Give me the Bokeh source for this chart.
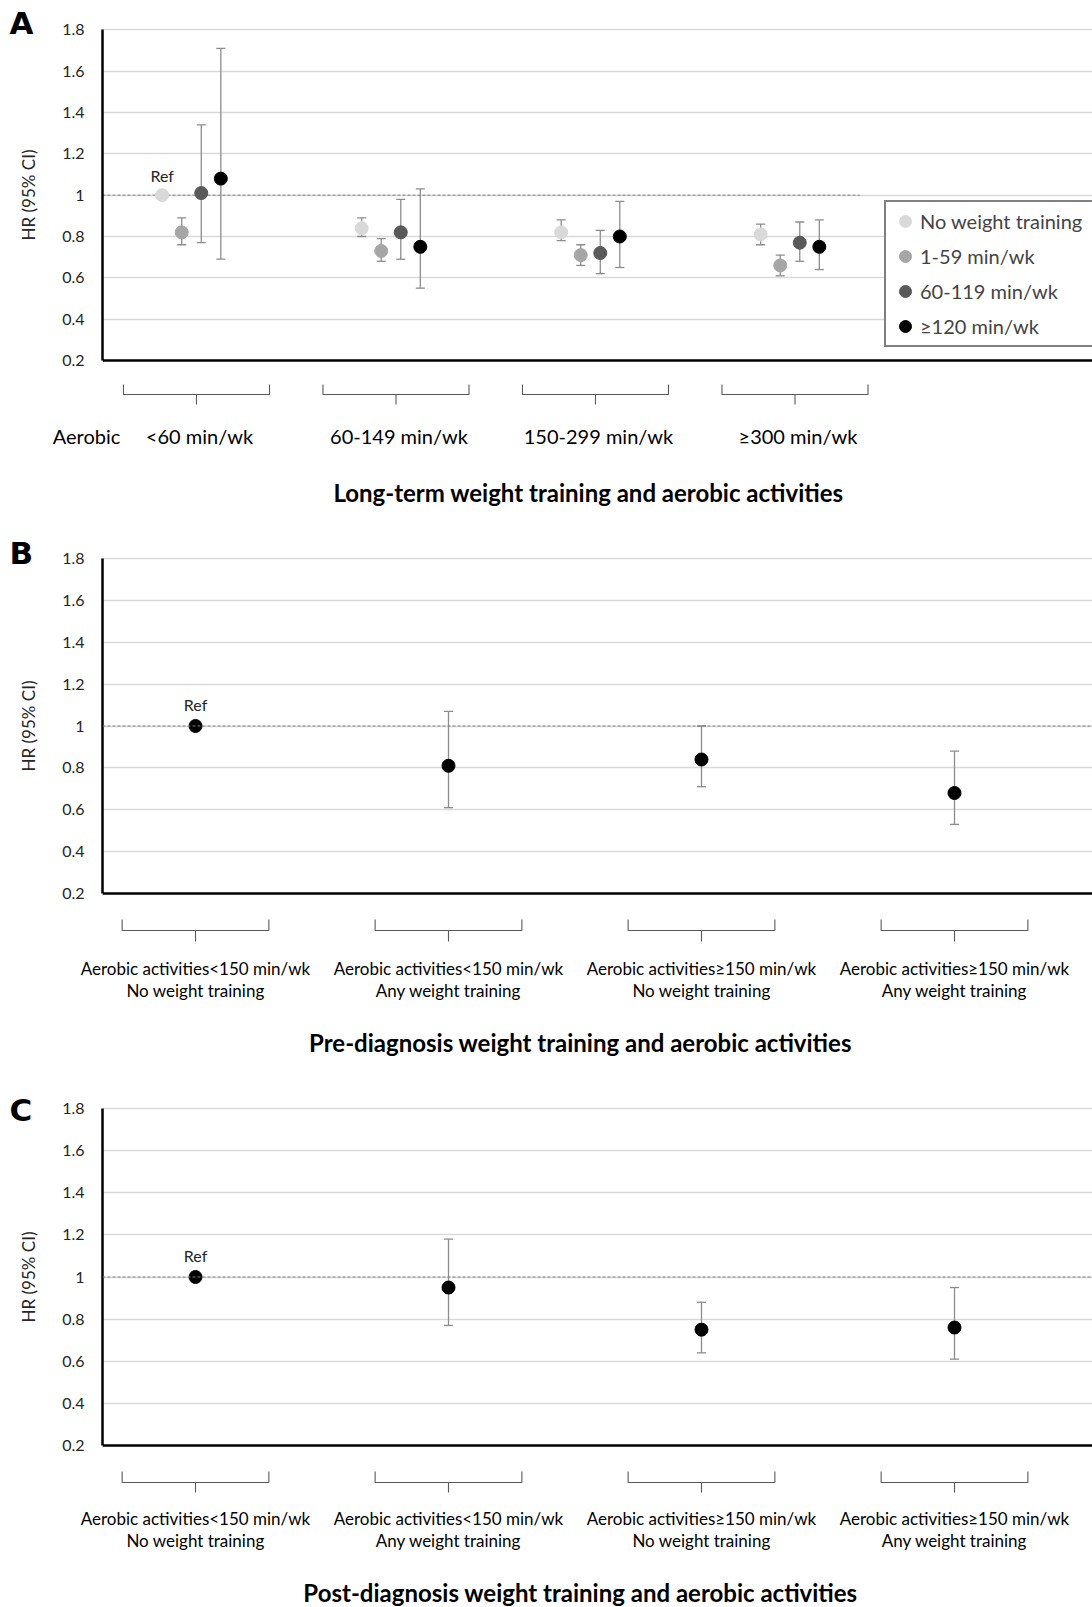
import numpy as np
from bokeh.plotting import figure
from bokeh.models import (Range1d, FixedTicker, Span, Whisker, TeeHead, ColumnDataSource,
                          Label, Legend, LegendItem)
from bokeh.layouts import column, row
from bokeh.embed import file_html
from bokeh.resources import INLINE
from bokeh.core.properties import value

# ---------------- data ----------------
y_ticks = [0.2, 0.4, 0.6, 0.8, 1.0, 1.2, 1.4, 1.6, 1.8]
y_tick_labels = ["0.2", "0.4", "0.6", "0.8", "1", "1.2", "1.4", "1.6", "1.8"]
y_label = "HR (95% CI)"
ref_text = "Ref"

# Panel A: long-term weight training within aerobic activity groups
a_aerobic_title = "Aerobic"
a_aerobic = ["<60 min/wk", "60-149 min/wk", "150-299 min/wk", "≥300 min/wk"]
a_weight = ["No weight training", "1-59 min/wk", "60-119 min/wk", "≥120 min/wk"]
a_hr_none = [1.00, 0.84, 0.82, 0.81]
a_lo_none = [np.nan, 0.80, 0.78, 0.76]
a_hi_none = [np.nan, 0.89, 0.88, 0.86]
a_hr_1_59 = [0.82, 0.73, 0.71, 0.66]
a_lo_1_59 = [0.76, 0.68, 0.66, 0.61]
a_hi_1_59 = [0.89, 0.79, 0.76, 0.71]
a_hr_60_119 = [1.01, 0.82, 0.72, 0.77]
a_lo_60_119 = [0.77, 0.69, 0.62, 0.68]
a_hi_60_119 = [1.34, 0.98, 0.83, 0.87]
a_hr_120 = [1.08, 0.75, 0.80, 0.75]
a_lo_120 = [0.69, 0.55, 0.65, 0.64]
a_hi_120 = [1.71, 1.03, 0.97, 0.88]
a_title = "Long-term weight training and aerobic activities"

# Panels B and C: categories
bc_line1 = ["Aerobic activities<150 min/wk", "Aerobic activities<150 min/wk",
            "Aerobic activities≥150 min/wk", "Aerobic activities≥150 min/wk"]
bc_line2 = ["No weight training", "Any weight training",
            "No weight training", "Any weight training"]

b_hr = [1.00, 0.81, 0.84, 0.68]
b_lo = [np.nan, 0.61, 0.71, 0.53]
b_hi = [np.nan, 1.07, 1.00, 0.88]
b_title = "Pre-diagnosis weight training and aerobic activities"

c_hr = [1.00, 0.95, 0.75, 0.76]
c_lo = [np.nan, 0.77, 0.64, 0.61]
c_hi = [np.nan, 1.18, 0.88, 0.95]
c_title = "Post-diagnosis weight training and aerobic activities"

# ---------------- layout / style ----------------
PAGE_W = 1092
SIDE_W = 45
MAIN_W = PAGE_W - SIDE_W
FRAME_LEFT = 102
MAIN_LEFT = FRAME_LEFT - SIDE_W
FRAME_W = PAGE_W - FRAME_LEFT
FONT = "Lato"
TXT = "#262626"
WHISK = "#8c8c8c"
GRID = "#d9d9d9"
A_COLORS = ["#d9d9d9", "#a6a6a6", "#595959", "#000000"]


def bare(p):
    p.outline_line_color = None
    p.xgrid.grid_line_color = None
    p.ygrid.grid_line_color = None


def make_main(first_px, step_px, height, top18, bot02):
    """top18 / bot02: pixel rows of the 1.8 and 0.2 grid lines inside the figure."""
    x0 = 1 - (first_px - FRAME_LEFT) / step_px
    x1 = x0 + FRAME_W / step_px
    k = (bot02 - top18) / (y_ticks[-1] - y_ticks[0])
    y0 = y_ticks[0] - (height - bot02) / k
    y1 = y_ticks[-1] + top18 / k
    p = figure(width=MAIN_W, height=height, output_backend="svg",
               toolbar_location=None, x_range=Range1d(x0, x1), y_range=Range1d(y0, y1),
               x_axis_location=None, min_border_left=MAIN_LEFT, min_border_right=0,
               min_border_top=0, min_border_bottom=0)
    p.outline_line_color = None
    p.xgrid.grid_line_color = None
    p.ygrid.ticker = FixedTicker(ticks=y_ticks)
    p.ygrid.grid_line_color = GRID
    p.ygrid.grid_line_width = 1.5
    ax = p.yaxis[0]
    ax.ticker = FixedTicker(ticks=y_ticks)
    ax.bounds = (y_ticks[0], y_ticks[-1])
    ax.major_label_overrides = {t: l for t, l in zip(y_ticks, y_tick_labels)}
    ax.axis_line_color = "black"
    ax.axis_line_width = 2.5
    ax.major_tick_out = 0
    ax.major_tick_in = 0
    ax.minor_tick_line_color = None
    ax.major_label_standoff = 18
    ax.major_label_text_font = FONT
    ax.major_label_text_font_size = "16px"
    ax.major_label_text_color = TXT
    p.add_layout(Span(location=y_ticks[0], dimension="width", line_color="black",
                      line_width=2.5))
    return p, x0


def make_side(height, letter, letter_mid, label_center):
    s = figure(width=SIDE_W, height=height, output_backend="svg", toolbar_location=None,
               x_range=Range1d(0, SIDE_W), y_range=Range1d(height, 0),
               x_axis_location=None, y_axis_location=None,
               min_border_left=0, min_border_right=0, min_border_top=0, min_border_bottom=0)
    bare(s)
    s.text(x=[9], y=[letter_mid], text=[letter], text_font=value("DejaVu Sans"),
           text_font_style="bold", text_font_size="31px", text_align="left",
           text_baseline="middle", text_color="black")
    s.text(x=[28], y=[label_center], text=[y_label], angle=np.pi / 2,
           text_font=value(FONT), text_font_size="17px", text_align="center",
           text_baseline="middle", text_color=TXT)
    return s


def make_below(first_px, step_px, height):
    x0 = 1 - first_px / step_px
    x1 = x0 + PAGE_W / step_px
    p = figure(width=PAGE_W, height=height, output_backend="svg", toolbar_location=None,
               x_range=Range1d(x0, x1), y_range=Range1d(height, 0),
               x_axis_location=None, y_axis_location=None,
               min_border_left=0, min_border_right=0, min_border_top=0, min_border_bottom=0)
    bare(p)
    return p, x0


def add_brackets(p, centers, half, y_top, y_mid, y_bot):
    xs, ys = [], []
    for c in centers:
        xs.append([c - half, c - half, c + half, c + half])
        ys.append([y_top, y_mid, y_mid, y_top])
        xs.append([c, c])
        ys.append([y_mid, y_bot])
    p.multi_line(xs=xs, ys=ys, line_color="#595959", line_width=1.1)


def add_whiskers(p, x, lo, hi):
    x = np.asarray(x, float)
    lo = np.asarray(lo, float)
    hi = np.asarray(hi, float)
    m = ~np.isnan(lo)
    src = ColumnDataSource(dict(x=x[m], lo=lo[m], hi=hi[m]))
    w = Whisker(source=src, base="x", lower="lo", upper="hi", line_color=WHISK, line_width=1.3,
                upper_head=TeeHead(size=9, line_color=WHISK, line_width=1.3),
                lower_head=TeeHead(size=9, line_color=WHISK, line_width=1.3))
    p.add_layout(w)


def ref_label(p, x, off):
    p.add_layout(Label(x=x, y=1.0, y_offset=off, text=ref_text, text_font=FONT,
                       text_font_size="16px", text_align="center", text_baseline="middle",
                       text_color=TXT))


# ---------------- Panel A ----------------
A_FIRST, A_STEP = 191.0, 199.5
A_H = 372
pA, a_x0 = make_main(A_FIRST, A_STEP, A_H, 29.3, 360)
sA = make_side(A_H, "A", 22, 194.5)
groups = np.arange(1, len(a_aerobic) + 1, dtype=float)
offsets = np.array([-1.5, -0.5, 0.5, 1.5]) * 0.098
series = [(a_hr_none, a_lo_none, a_hi_none), (a_hr_1_59, a_lo_1_59, a_hi_1_59),
          (a_hr_60_119, a_lo_60_119, a_hi_60_119), (a_hr_120, a_lo_120, a_hi_120)]
pA.segment(x0=[a_x0], y0=[1.0], x1=[4.35], y1=[1.0], line_color="#7f7f7f",
           line_width=1, line_dash="3 2")
for (hr, lo, hi), off in zip(series, offsets):
    add_whiskers(pA, groups + off, lo, hi)
items = []
for (hr, lo, hi), off, col, name in zip(series, offsets, A_COLORS, a_weight):
    r = pA.scatter(x=groups + off, y=hr, size=13, fill_color=col, line_color=col)
    items.append(LegendItem(label=name, renderers=[r]))
ref_label(pA, 1 + offsets[0], 20)
leg = Legend(items=items, location=(884 - FRAME_LEFT, A_H - 347), margin=0, padding=4,
             spacing=5, glyph_width=30, glyph_height=30, label_height=30, label_standoff=0,
             label_width=230, label_text_font=FONT, label_text_font_size="20px",
             border_line_color="black", border_line_width=2,
             background_fill_color="white", background_fill_alpha=1.0)
pA.add_layout(leg)

bA, ab_x0 = make_below(A_FIRST, A_STEP, 164)
add_brackets(bA, groups + 0.025, 0.366, 12, 22, 32)
bA.text(x=groups + 0.04, y=[63] * 4, text=a_aerobic, text_font=value(FONT),
        text_font_size="20px", text_align="center", text_baseline="middle", text_color="black")
bA.text(x=[ab_x0 + 86 / A_STEP], y=[63], text=[a_aerobic_title], text_font=value(FONT),
        text_font_size="20px", text_align="center", text_baseline="middle", text_color="black")
bA.text(x=[ab_x0 + 588 / A_STEP], y=[120], text=[a_title], text_font=value(FONT),
        text_font_style="bold", text_font_size="24px", text_align="center",
        text_baseline="middle", text_color="black")

# ---------------- Panels B and C ----------------
BC_FIRST, BC_STEP = 195.0, 253.0
cats = np.arange(1, len(bc_line1) + 1, dtype=float)


def panel_bc(letter, hr, lo, hi, title, height, top18, bot02, letter_mid, label_center,
             below_h, br_y, l1_y, l2_y, t_y):
    p, x0 = make_main(BC_FIRST, BC_STEP, height, top18, bot02)
    s = make_side(height, letter, letter_mid, label_center)
    p.add_layout(Span(location=1.0, dimension="width", line_color="#7f7f7f",
                      line_width=1, line_dash="3 2"))
    add_whiskers(p, cats, lo, hi)
    p.scatter(x=cats, y=hr, size=13, fill_color="black", line_color="black")
    ref_label(p, cats[0], 22)
    b, bx0 = make_below(BC_FIRST, BC_STEP, below_h)
    add_brackets(b, cats, 0.29, br_y[0], br_y[1], br_y[2])
    b.text(x=cats, y=[l1_y] * 4, text=bc_line1, text_font=value(FONT), text_font_size="17px",
           text_align="center", text_baseline="middle", text_color="black")
    b.text(x=cats, y=[l2_y] * 4, text=bc_line2, text_font=value(FONT), text_font_size="17px",
           text_align="center", text_baseline="middle", text_color="black")
    b.text(x=[bx0 + 580 / BC_STEP], y=[t_y], text=[title], text_font=value(FONT),
           text_font_style="bold", text_font_size="24px", text_align="center",
           text_baseline="middle", text_color="black")
    return row(s, p, spacing=0), b


rowB, bB = panel_bc("B", b_hr, b_lo, b_hi, b_title, 369, 22, 357, 16, 189.5, 181,
                    (14, 25, 36), 63, 85, 137)
rowC, bC = panel_bc("C", c_hr, c_lo, c_hi, c_title, 371, 22, 359, 23, 190.5, 150,
                    (14, 25, 35), 61, 83, 135)

layout = column(row(sA, pA, spacing=0), bA, rowB, bB, rowC, bC, spacing=0)
open("out.html", "w").write(file_html(layout, INLINE))
